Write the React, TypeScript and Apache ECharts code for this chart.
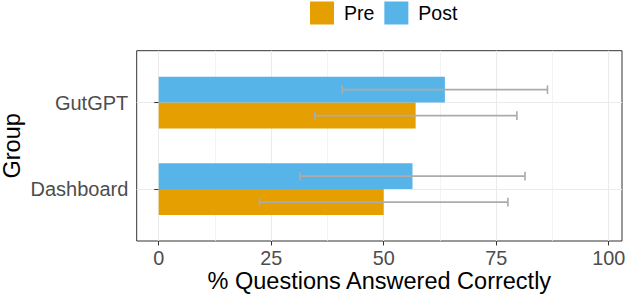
import React, { useEffect, useRef } from "react";
import * as echarts from "echarts";

// ---- data ----
const categories = ["Dashboard", "GutGPT"];
const seriesNames = ["Pre", "Post"];
const preValues = [50.0, 57.1];
const preLow = [22.4, 34.7];
const preHigh = [77.6, 79.6];
const postValues = [56.4, 63.6];
const postLow = [31.4, 40.8];
const postHigh = [81.4, 86.4];
const xTicks = [0, 25, 50, 75, 100];
const xMinorTicks = [12.5, 37.5, 62.5, 87.5];
const yTicks = [1, 2];

const X_MIN = -4.89;
const X_MAX = 102.96;
const Y_MIN = 0.4;
const Y_MAX = 2.6;

const FONT = "'Liberation Sans', Arial, Helvetica, sans-serif";
const COLORS = { Pre: "#E69F00", Post: "#56B4E9" };
const BAR_HALF = 0.15;
const CAP_HALF = 0.05;
const ERR_COLOR = "#ABABAB";

function makeData(values: number[], low: number[], high: number[]) {
  return categories.map((_, i) => [i + 1, values[i], low[i], high[i]]);
}

function makeRender(offset: number, color: string) {
  return (params: any, api: any) => {
    const y = api.value(0) + offset;
    const v = api.value(1);
    const lo = api.value(2);
    const hi = api.value(3);
    const p0 = api.coord([0, y + BAR_HALF]);
    const p1 = api.coord([v, y - BAR_HALF]);
    const eL = api.coord([lo, y]);
    const eH = api.coord([hi, y]);
    const capT = api.coord([lo, y + CAP_HALF]);
    const capB = api.coord([lo, y - CAP_HALF]);
    const errStyle = { stroke: ERR_COLOR, lineWidth: 1.6 };
    return {
      type: "group",
      children: [
        {
          type: "rect",
          shape: { x: p0[0], y: p0[1], width: p1[0] - p0[0], height: p1[1] - p0[1] },
          style: { fill: color },
        },
        {
          type: "line",
          shape: { x1: eL[0], y1: eL[1], x2: eH[0], y2: eH[1] },
          style: errStyle,
        },
        {
          type: "line",
          shape: { x1: eL[0], y1: capT[1], x2: eL[0], y2: capB[1] },
          style: errStyle,
        },
        {
          type: "line",
          shape: { x1: eH[0], y1: capT[1], x2: eH[0], y2: capB[1] },
          style: errStyle,
        },
      ],
    };
  };
}

export default function App() {
  const ref = useRef<HTMLDivElement>(null);
  useEffect(() => {
    if (!ref.current) return;
    const chart = echarts.init(ref.current, undefined, { renderer: "svg" });
    const option: any = {
      animation: false,
      textStyle: { fontFamily: FONT },
      legend: {
        data: seriesNames,
        left: 310,
        top: 1.5,
        padding: 0,
        orient: "horizontal",
        icon: "rect",
        itemWidth: 24,
        itemHeight: 23,
        itemGap: 10,
        textStyle: { fontSize: 19.5, color: "#000", fontFamily: FONT, padding: [0, 0, 0, 5] },
      },
      grid: {
        left: 136.7,
        right: 4,
        top: 50.7,
        bottom: 55,
        containLabel: false,
        outerBoundsMode: "none",
        show: true,
        borderColor: "#333333",
        borderWidth: 1,
        backgroundColor: "#fff",
      },
      xAxis: [
        {
          type: "value",
          min: X_MIN,
          max: X_MAX,
          position: "bottom",
          name: "% Questions Answered Correctly",
          nameLocation: "middle",
          nameGap: 40,
          nameMoveOverlap: false,
          nameTextStyle: { fontSize: 23.5, color: "#000", fontFamily: FONT, verticalAlign: "middle" },
          axisLine: { show: false },
          axisTick: {
            show: true,
            customValues: xTicks,
            length: 4.5,
            lineStyle: { color: "#333333", width: 1 },
          },
          axisLabel: {
            customValues: xTicks,
            fontSize: 19.8,
            color: "#4D4D4D",
            margin: 7,
            fontFamily: FONT,
          },
          splitLine: { show: true, lineStyle: { color: "#EBEBEB", width: 1.1 } },
        },
        {
          type: "value",
          min: X_MIN,
          max: X_MAX,
          position: "top",
          axisLine: { show: false },
          axisTick: { show: false, customValues: xMinorTicks },
          axisLabel: { show: false, customValues: xMinorTicks },
          splitLine: { show: true, lineStyle: { color: "#F0F0F0", width: 0.8 } },
        },
      ],
      yAxis: [
        {
          type: "value",
          min: Y_MIN,
          max: Y_MAX,
          name: "Group",
          nameLocation: "middle",
          nameRotate: 90,
          nameGap: 124.5,
          nameMoveOverlap: false,
          nameTextStyle: { fontSize: 23.5, color: "#000", fontFamily: FONT, verticalAlign: "middle", align: "center" },
          axisLine: { show: false },
          axisTick: {
            show: true,
            customValues: yTicks,
            length: 4.5,
            lineStyle: { color: "#333333", width: 1 },
          },
          axisLabel: {
            customValues: yTicks,
            formatter: (v: number) => categories[Math.round(v) - 1] ?? "",
            fontSize: 20,
            color: "#4D4D4D",
            margin: 8.4,
            fontFamily: FONT,
          },
          splitLine: { show: true, lineStyle: { color: "#EBEBEB", width: 1.1 } },
        },
      ],
      series: [
        {
          name: "Pre",
          type: "custom",
          xAxisIndex: 0,
          yAxisIndex: 0,
          itemStyle: { color: COLORS.Pre },
          encode: { x: [1, 2, 3], y: 0 },
          data: makeData(preValues, preLow, preHigh),
          renderItem: makeRender(-BAR_HALF, COLORS.Pre),
          z: 3,
        },
        {
          name: "Post",
          type: "custom",
          xAxisIndex: 0,
          yAxisIndex: 0,
          itemStyle: { color: COLORS.Post },
          encode: { x: [1, 2, 3], y: 0 },
          data: makeData(postValues, postLow, postHigh),
          renderItem: makeRender(BAR_HALF, COLORS.Post),
          z: 3,
        },
      ],
    };
    chart.setOption(option);
    return () => chart.dispose();
  }, []);
  return (
    <div
      ref={ref}
      style={{ position: "fixed", left: 0, top: 0, width: 626, height: 296, background: "#fff" }}
    />
  );
}
